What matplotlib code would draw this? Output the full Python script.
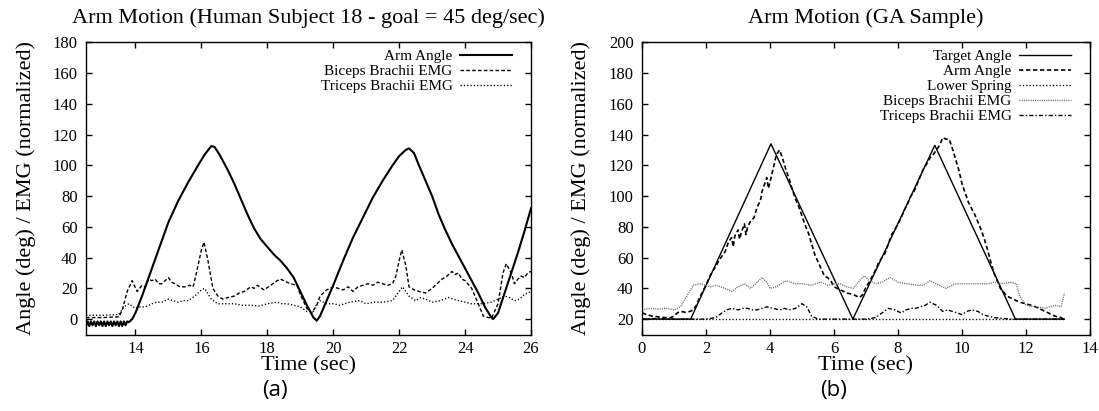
import matplotlib
matplotlib.use("Agg")
import matplotlib.pyplot as plt

plt.rcParams["font.family"] = ["Liberation Serif", "DejaVu Serif"]

# ---------------- (a) human subject 18 ----------------
human_arm_t = [12.5, 12.55, 12.6, 12.65, 12.7, 12.75, 12.8, 12.85, 12.9, 12.95,
               13.0, 13.05, 13.1, 13.15, 13.2, 13.25, 13.3, 13.35, 13.4, 13.45,
               13.5, 13.55, 13.6, 13.65, 13.7, 13.75, 13.8, 13.9, 14.0, 14.2,
               14.5, 14.8, 15.0, 15.3, 15.6, 15.9, 16.1, 16.3, 16.4, 16.55,
               16.8, 17.0, 17.2, 17.4, 17.6, 17.8, 18.0, 18.2, 18.4, 18.6,
               18.8, 19.0, 19.2, 19.4, 19.5, 19.6, 19.8, 20.0, 20.3, 20.6,
               20.9, 21.2, 21.5, 21.8, 22.0, 22.2, 22.3, 22.45, 22.6, 22.8,
               23.0, 23.2, 23.4, 23.6, 23.8, 24.0, 24.2, 24.4, 24.6, 24.8,
               24.85, 25.0, 25.2, 25.4, 25.6, 25.8, 26.0]
human_arm = [-4.5, -1.5, -4.5, -1.5, -4.0, -1.5, -4.5, -1.5, -4.0, -1.5,
             -4.5, -1.5, -4.5, -1.5, -4.0, -1.5, -4.5, -1.5, -4.0, -1.5,
             -4.5, -1.5, -4.5, -1.5, -4.0, -1.5, -2.0, 0.0, 4.0, 15.0,
             33.0, 51.0, 63.0, 77.0, 89.0, 100.0, 107.0, 112.5, 112.0, 107.0,
             97.0, 88.0, 78.0, 68.0, 59.0, 52.0, 47.0, 42.0, 38.0, 33.0,
             27.0, 18.0, 9.0, 1.0, -1.0, 2.0, 12.0, 22.0, 38.0, 53.0,
             66.0, 79.0, 90.0, 100.0, 106.0, 110.0, 111.0, 108.0, 100.0, 90.0,
             80.0, 68.0, 58.0, 49.0, 41.0, 33.0, 25.0, 17.0, 8.0, 1.0,
             0.0, 4.0, 17.0, 30.0, 43.0, 57.0, 72.0]

human_bic_t = [12.5, 13.0, 13.5, 13.6, 13.75, 13.9, 14.05, 14.2, 14.3, 14.4,
               14.5, 14.6, 14.7, 14.8, 14.9, 15.0, 15.1, 15.2, 15.35, 15.5,
               15.65, 15.75, 15.85, 16.0, 16.08, 16.2, 16.35, 16.5, 16.65, 16.8,
               17.0, 17.15, 17.3, 17.5, 17.6, 17.7, 17.9, 18.1, 18.3, 18.4,
               18.5, 18.7, 18.9, 19.0, 19.2, 19.35, 19.5, 19.6, 19.8, 20.0,
               20.15, 20.3, 20.45, 20.6, 20.75, 20.9, 21.05, 21.2, 21.35, 21.5,
               21.65, 21.8, 21.9, 22.0, 22.08, 22.2, 22.3, 22.45, 22.6, 22.8,
               23.0, 23.15, 23.3, 23.45, 23.6, 23.7, 23.8, 23.9, 24.0, 24.2,
               24.4, 24.55, 24.8, 25.0, 25.15, 25.25, 25.4, 25.5, 25.6, 25.7,
               25.8, 25.9, 26.0]
human_bic = [1.0, 1.0, 1.5, 6.0, 18.0, 25.0, 18.0, 22.0, 21.0, 26.0,
             25.0, 26.0, 23.0, 23.0, 25.0, 27.0, 24.0, 23.0, 21.0, 21.0,
             22.0, 21.0, 30.0, 45.0, 50.0, 38.0, 20.0, 15.0, 13.0, 14.0,
             15.0, 17.0, 18.0, 21.0, 20.0, 22.0, 19.0, 22.0, 25.0, 26.0,
             25.0, 23.0, 22.0, 16.0, 7.0, 4.0, 9.0, 15.0, 19.0, 21.0,
             20.0, 19.0, 21.0, 18.0, 21.0, 22.0, 23.0, 22.0, 24.0, 23.0,
             22.0, 23.0, 28.0, 38.0, 45.0, 35.0, 21.0, 19.0, 18.0, 17.0,
             20.0, 23.0, 26.0, 28.0, 31.0, 29.0, 30.0, 26.0, 25.0, 20.0,
             10.0, 2.0, 0.5, 10.0, 30.0, 36.0, 30.0, 23.0, 26.0, 28.0,
             27.0, 30.0, 31.0]

human_tri_t = [12.5, 13.0, 13.5, 13.65, 13.8, 14.0, 14.15, 14.3, 14.5, 14.65,
               14.8, 15.0, 15.15, 15.3, 15.45, 15.6, 15.8, 16.0, 16.1, 16.3,
               16.5, 16.75, 17.0, 17.25, 17.5, 17.75, 18.0, 18.3, 18.45, 18.6,
               18.8, 19.0, 19.2, 19.4, 19.5, 19.6, 19.8, 20.0, 20.2, 20.5,
               20.8, 21.0, 21.25, 21.5, 21.8, 22.0, 22.1, 22.3, 22.5, 22.65,
               22.8, 23.0, 23.25, 23.5, 23.65, 23.8, 24.0, 24.2, 24.5, 24.8,
               25.0, 25.2, 25.35, 25.5, 25.65, 25.8, 26.0]
human_tri = [2.5, 2.5, 3.0, 8.0, 10.0, 7.0, 8.0, 8.0, 10.0, 11.0,
             11.0, 13.0, 12.0, 11.0, 12.0, 12.0, 15.0, 19.0, 20.0, 13.0,
             10.0, 10.0, 10.0, 9.0, 9.0, 8.5, 10.0, 11.0, 10.0, 10.0,
             9.0, 8.0, 5.0, 5.0, 10.0, 12.0, 10.0, 10.0, 9.0, 11.0,
             12.0, 10.0, 11.0, 11.0, 12.0, 18.0, 21.0, 15.0, 12.0, 14.0,
             13.0, 11.0, 12.0, 14.0, 13.0, 12.0, 11.0, 10.0, 10.0, 11.0,
             13.0, 15.0, 14.0, 12.0, 13.0, 16.0, 18.0]

# ---------------- (b) GA sample ----------------
target_t = [0.0, 1.52, 4.03, 6.59, 9.15, 11.67, 13.2]
target = [20.0, 20.0, 134.0, 20.0, 133.0, 20.0, 20.0]

ga_arm_t = [0.0, 0.15, 0.3, 0.5, 0.7, 0.9, 1.0, 1.1, 1.2, 1.35, 1.5, 1.6,
            1.7, 1.8, 1.9, 2.0, 2.1, 2.2, 2.3, 2.4, 2.5, 2.6, 2.7, 2.8,
            2.85, 2.9, 3.0, 3.05, 3.1, 3.2, 3.25, 3.3, 3.4, 3.5, 3.6, 3.7,
            3.75, 3.8, 3.9, 3.95, 4.0, 4.1, 4.2, 4.3, 4.4, 4.5, 4.6, 4.7,
            4.8, 4.9, 5.0, 5.1, 5.2, 5.3, 5.4, 5.55, 5.7, 5.8, 5.9, 6.0,
            6.2, 6.4, 6.6, 6.8, 6.9, 7.0, 7.1, 7.2, 7.3, 7.4, 7.5, 7.6,
            7.7, 7.8, 7.9, 8.0, 8.1, 8.2, 8.3, 8.4, 8.5, 8.6, 8.7, 8.8,
            8.9, 9.0, 9.1, 9.2, 9.3, 9.4, 9.5, 9.6, 9.7, 9.8, 9.9, 10.0,
            10.1, 10.2, 10.3, 10.4, 10.5, 10.6, 10.7, 10.8, 10.9, 11.0, 11.1, 11.2,
            11.4, 11.6, 11.8, 12.0, 12.3, 12.6, 12.9, 13.1, 13.2]
ga_arm = [24.0, 23.0, 22.0, 21.5, 21.0, 21.0, 22.0, 24.0, 25.0, 24.5, 25.0, 26.0,
          29.0, 34.0, 38.0, 42.0, 47.0, 51.0, 54.0, 58.0, 61.0, 64.0, 70.0, 73.0,
          67.0, 74.0, 78.0, 72.0, 76.0, 82.0, 75.0, 80.0, 84.0, 86.0, 93.0, 97.0,
          103.0, 106.0, 112.0, 105.0, 109.0, 118.0, 127.0, 130.0, 124.0, 117.0, 111.0, 104.0,
          98.0, 93.0, 87.0, 81.0, 76.0, 69.0, 62.0, 55.0, 48.0, 47.0, 45.0, 41.0,
          39.0, 37.0, 36.0, 34.0, 36.0, 41.0, 44.0, 48.0, 52.0, 57.0, 60.0, 63.0,
          69.0, 75.0, 78.0, 82.0, 86.0, 91.0, 95.0, 100.0, 103.0, 108.0, 113.0, 118.0,
          121.0, 125.0, 127.0, 130.0, 133.0, 138.0, 137.0, 137.0, 131.0, 124.0, 117.0, 108.0,
          102.0, 96.0, 92.0, 88.0, 83.0, 78.0, 72.0, 65.0, 57.0, 50.0, 45.0, 40.0,
          35.0, 33.0, 31.0, 30.0, 28.0, 25.0, 22.0, 21.0, 19.0]

spring_t = [0.0, 13.2]
spring = [20.0, 20.0]

ga_bic_t = [0.0, 0.25, 0.5, 0.75, 1.0, 1.2, 1.4, 1.6, 1.8, 2.0, 2.15, 2.3,
            2.45, 2.6, 2.8, 3.0, 3.2, 3.4, 3.6, 3.75, 3.9, 4.0, 4.2, 4.5,
            4.8, 5.0, 5.3, 5.6, 5.8, 6.0, 6.2, 6.4, 6.6, 6.8, 6.95, 7.1,
            7.3, 7.5, 7.75, 8.0, 8.3, 8.6, 8.8, 9.0, 9.2, 9.5, 9.8, 10.0,
            10.3, 10.5, 10.8, 11.0, 11.3, 11.5, 11.7, 11.8, 12.0, 12.3, 12.6, 12.9,
            13.1, 13.2]
ga_bic = [26.0, 27.0, 26.5, 27.0, 26.0, 28.0, 35.0, 42.0, 43.0, 42.0, 41.0, 42.0,
          41.0, 40.0, 38.0, 41.0, 43.0, 40.0, 44.0, 47.0, 44.0, 40.0, 41.0, 45.0,
          43.0, 43.0, 42.0, 44.0, 42.0, 43.0, 43.0, 41.0, 40.0, 45.0, 48.0, 45.0,
          43.0, 44.0, 47.0, 44.0, 43.0, 42.0, 42.0, 45.0, 43.0, 40.0, 43.0, 43.0,
          43.0, 43.0, 43.0, 44.0, 43.0, 44.0, 43.0, 35.0, 29.0, 28.0, 27.0, 29.0,
          28.0, 37.0]

ga_tri_t = [0.0, 0.5, 1.0, 1.5, 2.0, 2.3, 2.5, 2.65, 2.8, 3.0, 3.15, 3.3,
            3.45, 3.6, 3.75, 3.9, 4.1, 4.3, 4.45, 4.6, 4.8, 5.0, 5.15, 5.3,
            5.5, 6.0, 6.5, 7.0, 7.3, 7.5, 7.7, 7.9, 8.1, 8.25, 8.4, 8.55,
            8.7, 8.85, 9.0, 9.2, 9.4, 9.55, 9.7, 9.85, 10.0, 10.15, 10.3, 10.5,
            10.65, 10.8, 11.0, 11.5, 12.0, 12.5, 13.2]
ga_tri = [20.0, 20.5, 20.0, 20.0, 20.0, 21.0, 24.0, 26.0, 27.0, 26.0, 27.0, 27.0,
          26.0, 26.0, 27.0, 28.0, 27.0, 26.0, 27.0, 26.0, 27.0, 30.0, 28.0, 22.0,
          20.0, 20.0, 20.0, 20.0, 21.0, 24.0, 27.0, 26.0, 24.0, 26.0, 27.0, 27.0,
          28.0, 29.0, 31.0, 29.0, 25.0, 26.0, 25.0, 24.0, 23.0, 25.0, 26.0, 25.0,
          23.0, 22.0, 21.0, 20.0, 20.0, 20.0, 20.0]

DASHED = (0, (2.6, 1.6))
DOTTED = (0, (0.9, 1.5))
FINE_DOT = (0, (0.8, 0.8))
DASH_DOT = (0, (3.0, 1.5, 1.0, 1.5))

W, H = 1099, 411
fig = plt.figure(figsize=(W / 100, H / 100), dpi=100, facecolor="white")
ax1 = fig.add_axes([86 / W, 76.5 / H, 445 / W, 292.2 / H])
ax2 = fig.add_axes([642 / W, 76.5 / H, 448 / W, 292.2 / H])


def style_axes(ax, title, xlim, ylim, xticks, yticks, tag, tag_x):
    ax.set_xlim(*xlim)
    ax.set_ylim(*ylim)
    ax.set_xticks(xticks)
    ax.set_yticks(yticks)
    ax.tick_params(direction="in", top=True, right=True, length=4, width=1,
                   labelsize=12)
    ax.tick_params(axis="x", pad=5)
    ax.tick_params(axis="y", pad=6)
    for sp in ax.spines.values():
        sp.set_linewidth(1.0)
    ax.set_title(title, fontsize=16, y=1.083, va="center", pad=0)
    ax.set_xlabel("Time (sec)", fontsize=16, va="center")
    ax.xaxis.set_label_coords(0.5, -0.107)
    ax.set_ylabel("Angle (deg) / EMG (normalized)", fontsize=16, va="center")
    ax.yaxis.set_label_coords(-0.135, 0.5)
    fig.text(tag_x / W, 1 - 390 / H, tag, fontsize=16, ha="center", va="center",
             family=["Open Sans", "DejaVu Sans"])
    ax.legend(loc="upper right", bbox_to_anchor=(0.958, 0.975), frameon=False,
              markerfirst=False, fontsize=11, handlelength=3.4, handletextpad=0.5,
              labelspacing=0.08, borderaxespad=0, borderpad=0)


ax1.plot(human_arm_t, human_arm, color="black", lw=1.5, label="Arm Angle")
ax1.plot(human_bic_t, human_bic, color="black", lw=1.0, ls=DASHED,
         label="Biceps Brachii EMG")
ax1.plot(human_tri_t, human_tri, color="black", lw=1.0, ls=DOTTED,
         label="Triceps Brachii EMG")
style_axes(ax1, "Arm Motion (Human Subject 18 - goal = 45 deg/sec)",
           (12.5, 26), (-10, 180), range(14, 27, 2), range(0, 181, 20), "(a)", 275)

ax2.plot(target_t, target, color="black", lw=1.0, label="Target Angle")
ax2.plot(ga_arm_t, ga_arm, color="black", lw=1.2, ls=DASHED, label="Arm Angle")
ax2.plot(spring_t, spring, color="black", lw=1.0, ls=DOTTED, label="Lower Spring")
ax2.plot(ga_bic_t, ga_bic, color="#707070", lw=1.0, ls=FINE_DOT,
         label="Biceps Brachii EMG")
ax2.plot(ga_tri_t, ga_tri, color="black", lw=1.0, ls=DASH_DOT,
         label="Triceps Brachii EMG")
style_axes(ax2, "Arm Motion (GA Sample)", (0, 14), (10, 200), range(0, 15, 2),
           range(20, 201, 20), "(b)", 834)

fig.savefig("out.png", dpi=100, facecolor="white")
